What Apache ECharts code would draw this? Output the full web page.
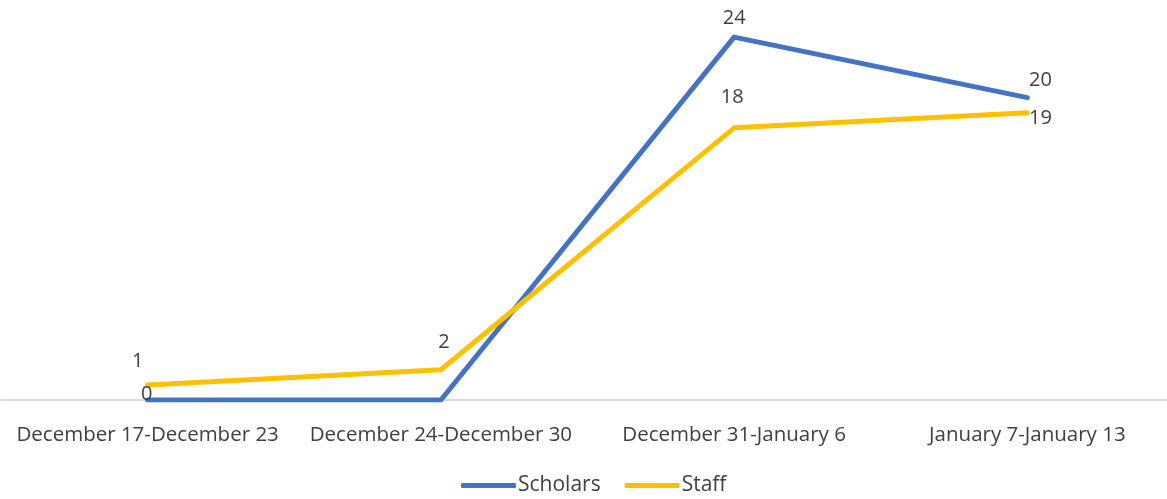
<!DOCTYPE html>
<html><head><meta charset="utf-8">
<script src="https://cdn.jsdelivr.net/npm/echarts@6/dist/echarts.min.js"></script>
<style>html,body{margin:0;padding:0;background:#fff}#c{width:1167px;height:499px}</style>
</head><body><div id="c"></div>
<script>
const categories = ['December 17-December 23','December 24-December 30','December 31-January 6','January 7-January 13'];
const scholars = [0, 0, 24, 20];
const staff = [1, 2, 18, 19];

const FONT = '"Open Sans", sans-serif';
const scholarsLabelOffsets = [[-1, 9], [0, 0], [0, -4], [13, -2]];
const scholarsLabelShow = [true, false, true, true];
const staffLabelOffsets = [[-10, -9], [3, -12], [-2, -16], [13, 21]];

const chart = echarts.init(document.getElementById('c'));
chart.setOption({
  animation: false,
  grid: {left: 1, width: 1173, top: 22, bottom: 99, containLabel: false, outerBoundsMode: 'none'},
  xAxis: {
    type: 'category', data: categories, boundaryGap: true,
    axisLine: {lineStyle: {color: '#d9d9d9', width: 2}},
    axisTick: {show: false},
    axisLabel: {color: '#404040', fontSize: 20.5, fontFamily: FONT, margin: 25, interval: 0}
  },
  yAxis: {type: 'value', min: 0, max: 25, show: false, splitLine: {show: false}},
  legend: {
    bottom: -2, left: 456, itemWidth: 55, itemHeight: 5, itemGap: 24,
    icon: 'roundRect',
    textStyle: {color: '#404040', fontSize: 21, fontFamily: FONT, padding: [0, 0, 0, -3]},
    data: ['Scholars', 'Staff']
  },
  series: [
    {
      name: 'Scholars', type: 'line', data: scholars.map((v, i) => ({
        value: v,
        label: {show: scholarsLabelShow[i], offset: scholarsLabelOffsets[i]}
      })),
      symbol: 'circle', symbolSize: 0, showSymbol: true,
      lineStyle: {color: '#4472C4', width: 5, cap: 'round', join: 'round'},
      itemStyle: {color: '#4472C4'},
      label: {show: true, position: 'top', color: '#404040', fontSize: 20, fontFamily: FONT}
    },
    {
      name: 'Staff', type: 'line', data: staff.map((v, i) => ({
        value: v, label: {offset: staffLabelOffsets[i]}
      })),
      symbol: 'circle', symbolSize: 0, showSymbol: true,
      lineStyle: {color: '#FFC000', width: 5, cap: 'round', join: 'round'},
      itemStyle: {color: '#FFC000'},
      label: {show: true, position: 'top', color: '#404040', fontSize: 20, fontFamily: FONT}
    }
  ]
});
</script></body></html>
